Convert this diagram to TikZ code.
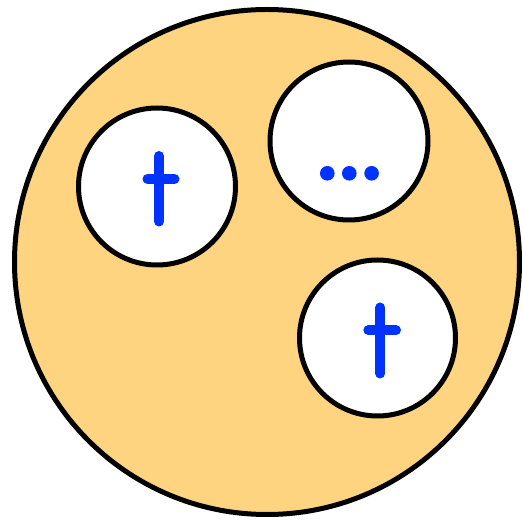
\documentclass[tikz,border=0pt]{standalone}
\definecolor{fillorange}{HTML}{FFD480}
\definecolor{markblue}{HTML}{0033FF}
\begin{document}
\begin{tikzpicture}[x=1pt,y=-1pt,
  outer/.style={draw=black,line width=5pt,fill=fillorange},
  inner/.style={draw=black,line width=5pt,fill=white},
  mark/.style={},
  strokeblue/.style={draw=markblue,line width=10pt,line cap=round},
  dotblue/.style={fill=markblue}]
\useasboundingbox (0,0) rectangle (523,521);
\node[outer,circle,minimum size=505pt,inner sep=0pt] (big) at (267,262) {};
\node[inner,circle,minimum size=157pt,inner sep=0pt] (c1) at (157,186.5) {};
\node[inner,circle,minimum size=158pt,inner sep=0pt] (c2) at (349,141) {};
\node[inner,circle,minimum size=156pt,inner sep=0pt] (c3) at (377.5,338) {};
% dagger 1
\coordinate (d1t) at (159,156);
\coordinate (d1b) at (159,221.5);
\coordinate (d1l) at (147.5,179);
\coordinate (d1r) at (174.5,179);
\draw[strokeblue] (d1t) -- (d1b);
\draw[strokeblue] (d1l) -- (d1r);
% dagger 2
\coordinate (d2t) at (380.3,307.5);
\coordinate (d2b) at (380.3,373.5);
\coordinate (d2l) at (368.3,330.3);
\coordinate (d2r) at (396,330.3);
\draw[strokeblue] (d2t) -- (d2b);
\draw[strokeblue] (d2l) -- (d2r);
% dots
\fill[dotblue] (327.3,173.3) circle (7.3);
\fill[dotblue] (349.3,173.3) circle (7.3);
\fill[dotblue] (371.6,173.3) circle (7.3);
\end{tikzpicture}
\end{document}
